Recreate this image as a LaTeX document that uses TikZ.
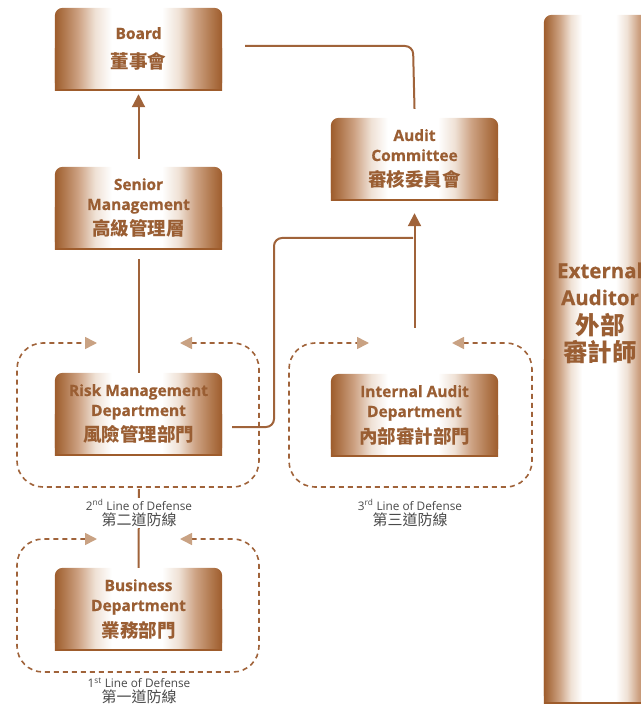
\documentclass[tikz,border=0pt]{standalone}
\usepackage{fontspec}
\setmainfont{Open Sans}
\newfontfamily\boxfont{Open Sans}[BoldFeatures={FakeBold=0.6}]
\newfontfamily\cjk{Noto Sans CJK TC}
\usetikzlibrary{arrows.meta,backgrounds}
\definecolor{bdark}{HTML}{9E5C2C}
\definecolor{bmd}{HTML}{B27A50}
\definecolor{bmid}{HTML}{CDA283}
\definecolor{blight}{HTML}{EFE1D5}
\definecolor{btext}{HTML}{9A5E33}
\definecolor{bline}{HTML}{A0633A}
\definecolor{btan}{HTML}{C9A283}
\definecolor{lgray}{HTML}{4A4A4A}
\pgfdeclarehorizontalshading{boxshade}{100bp}{color(0bp)=(bdark); color(25bp)=(bdark); color(28bp)=(bmd); color(32bp)=(bmid); color(37bp)=(blight); color(42bp)=(white); color(57bp)=(white); color(62bp)=(blight); color(67bp)=(bmid); color(71.5bp)=(bmd); color(75bp)=(bdark); color(100bp)=(bdark)}
\newcommand{\zh}[1]{{\cjk\bfseries\fontsize{18.5}{22}\selectfont #1}}
\begin{document}
\begin{tikzpicture}[x=1pt,y=-1pt,
  boxnode/.style={minimum width=167pt, minimum height=82pt, inner sep=0pt, align=center, text=btext, font=\boxfont\bfseries\fontsize{15.5}{20}\selectfont},
  conn/.style={draw=bline, line width=2pt},
  uparrow/.style={conn, arrows={-Triangle[length=13pt,width=13pt]}},
  defgroup/.style={draw=bline, line width=1.6pt, dash pattern=on 5pt off 4pt, rounded corners=26pt, arrows={Triangle[length=12pt,width=12pt,color=btan]-Triangle[length=12pt,width=12pt,color=btan]}},
  deflabel/.style={fill=white, inner sep=1.5pt, align=center, text=lgray, font=\fontsize{11.8}{15}\selectfont},
]
\useasboundingbox (0,0) rectangle (640,708);
% boxes
\node[boxnode] (board) at (138.5,49) {Board\\[10pt]\zh{董事會}};
\node[boxnode] (senior) at (138.5,208) {Senior\\Management\\[6pt]\zh{高級管理層}};
\node[boxnode] (risk) at (138.5,414) {Risk Management\\Department\\[6pt]\zh{風險管理部門}};
\node[boxnode] (business) at (138.5,609) {Business\\Department\\[6pt]\zh{業務部門}};
\node[boxnode] (audit) at (414.5,159) {Audit\\Committee\\[6pt]\zh{審核委員會}};
\node[boxnode] (internal) at (414.5,415) {Internal Audit\\Department\\[6pt]\zh{內部審計部門}};
\node[minimum width=112pt, minimum height=688pt, inner sep=0pt] (external) at (600,359) {};
\node[align=center, text=btext, inner sep=0pt, font=\boxfont\bfseries\fontsize{20.5}{27}\selectfont] (exttxt) at (600,313)
  {External\\Auditor\\[2pt]{\cjk\fontsize{24.5}{29}\selectfont 外部}\\{\cjk\fontsize{24.5}{29}\selectfont 審計師}};
\begin{scope}[on background layer]
\foreach \n in {board,senior,risk,business,audit,internal,external}{
  \shade[shading=boxshade, rounded corners=8pt] (\n.south west) rectangle (\n.north east);
  \shade[shading=boxshade] (\n.south west) rectangle (\n.east);
  \draw[bdark, line width=2pt] (\n.south west) -- (\n.south east);
}
\end{scope}
% connectors
\coordinate (jn) at (413,238);
\coordinate (rk1) at (274,427);
\coordinate (rk2) at (274,238);
\coordinate (bd) at (245,46);
\coordinate (au) at (413,46);
\coordinate (l2top) at (139,489);
\draw[uparrow, shorten <=8pt, shorten >=4pt] (senior.north) -- (board.south);
\draw[conn, shorten <=10pt] (senior.south) -- (risk.north);
\draw[conn] (l2top) -- (business.north);
\draw[uparrow, shorten <=46pt, shorten >=13pt] (internal.north) -- (audit.south);
\draw[conn, rounded corners=8pt] ([xshift=10pt,yshift=-13pt]risk.east) -- (rk1) -- (rk2) -- (jn);
\draw[conn, rounded corners=8pt] ([yshift=9pt]audit.north) -- (au) -- (bd);
% lines of defense
\draw[defgroup] (180,343) -- (259,343) -- (259,487) -- (17,487) -- (17,343) -- (97,343);
\draw[defgroup] (452,343) -- (532,343) -- (532,487) -- (289,487) -- (289,343) -- (369,343);
\draw[defgroup] (180,539) -- (259,539) -- (259,672) -- (17,672) -- (17,539) -- (97,539);
\node[deflabel] (l2) at (139,513) {2\textsuperscript{nd} Line of Defense\\{\cjk\fontsize{15}{17}\selectfont 第二道防線}};
\node[deflabel] (l3) at (410,513) {3\textsuperscript{rd} Line of Defense\\{\cjk\fontsize{15}{17}\selectfont 第三道防線}};
\node[deflabel] (l1) at (139,691) {1\textsuperscript{st} Line of Defense\\{\cjk\fontsize{15}{17}\selectfont 第一道防線}};
\end{tikzpicture}
\end{document}
